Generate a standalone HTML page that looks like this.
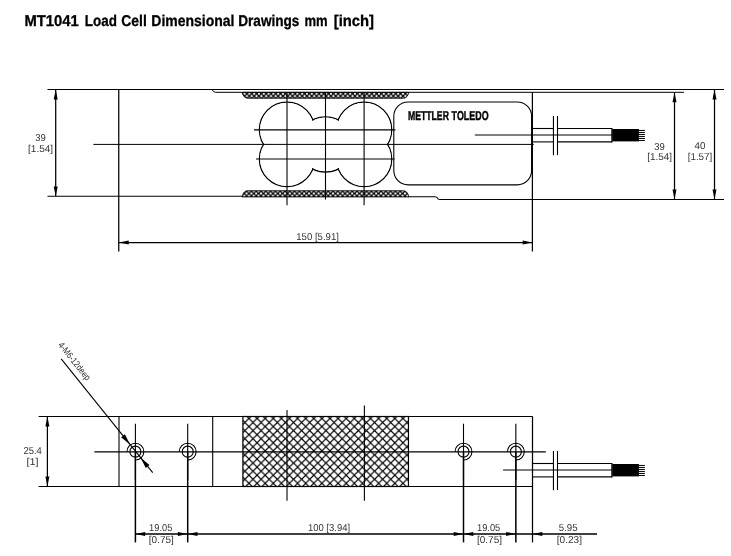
<!DOCTYPE html>
<html>
<head>
<meta charset="utf-8">
<title>MT1041 Load Cell Dimensional Drawings</title>
<style>
  html, body { margin: 0; padding: 0; background: #ffffff; }
  body { width: 731px; height: 556px; overflow: hidden; font-family: "Liberation Sans", sans-serif; }
  svg { display: block; filter: grayscale(1); }
  text { font-family: "Liberation Sans", sans-serif; text-rendering: geometricPrecision; }
  .ln { stroke: #000; stroke-width: 1.1; fill: none; }
  .th { stroke: #000; stroke-width: 1; fill: none; }
  .dim { font-size: 10px; fill: #333; text-anchor: middle; }
  .ar { fill: #000; stroke: none; }
  .dl { stroke: #000; stroke-width: 1.25; fill: none; }
</style>
</head>
<body>
<svg width="731" height="556" viewBox="0 0 731 556">
  <defs>
    <pattern id="hx" x="248.94" y="418.46" width="8.105" height="8.105" patternUnits="userSpaceOnUse">
      <path d="M-1 -1 L9.105 9.105 M9.105 -1 L-1 9.105" stroke="#000" stroke-width="1.12" fill="none"/>
    </pattern>
    <pattern id="hs" x="244.57" y="93.7" width="4.8" height="4.8" patternUnits="userSpaceOnUse">
      <rect width="4.8" height="4.8" fill="#000"/>
      <path d="M0 -1.55 L1.55 0 L0 1.55 L-1.55 0 Z M4.8 -1.55 L6.35 0 L4.8 1.55 L3.25 0 Z M0 3.25 L1.55 4.8 L0 6.35 L-1.55 4.8 Z M4.8 3.25 L6.35 4.8 L4.8 6.35 L3.25 4.8 Z M2.4 0.85 L3.95 2.4 L2.4 3.95 L0.85 2.4 Z" fill="#fff"/>
    </pattern>
    <pattern id="hs2" x="246.6" y="193.5" width="4.8" height="4.8" patternUnits="userSpaceOnUse">
      <rect width="4.8" height="4.8" fill="#000"/>
      <path d="M0 -1.55 L1.55 0 L0 1.55 L-1.55 0 Z M4.8 -1.55 L6.35 0 L4.8 1.55 L3.25 0 Z M0 3.25 L1.55 4.8 L0 6.35 L-1.55 4.8 Z M4.8 3.25 L6.35 4.8 L4.8 6.35 L3.25 4.8 Z M2.4 0.85 L3.95 2.4 L2.4 3.95 L0.85 2.4 Z" fill="#fff"/>
    </pattern>
  </defs>
  <rect width="731" height="556" fill="#fff"/>

  <!-- Title -->
  <g font-size="15.6" font-weight="bold" fill="#000" stroke="#000" stroke-width="0.3">
    <text x="24.4" y="26.2" textLength="54.3" lengthAdjust="spacingAndGlyphs">MT1041</text>
    <text x="84.8" y="26.2" textLength="32.1" lengthAdjust="spacingAndGlyphs">Load</text>
    <text x="121.3" y="26.2" textLength="25.5" lengthAdjust="spacingAndGlyphs">Cell</text>
    <text x="151.35" y="26.2" textLength="83.15" lengthAdjust="spacingAndGlyphs">Dimensional</text>
    <text x="238.2" y="26.2" textLength="61.25" lengthAdjust="spacingAndGlyphs">Drawings</text>
    <text x="304.55" y="26.2" textLength="23.15" lengthAdjust="spacingAndGlyphs">mm</text>
    <text x="333.75" y="26.2" textLength="40.25" lengthAdjust="spacingAndGlyphs">[inch]</text>
  </g>

  <!-- ================= TOP VIEW ================= -->
  <g id="top">
    <!-- outline -->
    <line class="ln" x1="47.5" y1="89.5" x2="724" y2="89.5"/>
    <path class="ln" d="M212.2 89.5 Q213 92.3 215.5 92.3 L684 92.3" style="stroke-width:1"/>
    <line class="ln" x1="47.5" y1="196.3" x2="243" y2="196.3"/>
    <path class="ln" d="M408 196.7 L435 196.7 Q436.8 196.9 437.4 198.1 Q438 199.5 439.8 199.5 L724 199.5"/>
    <line class="dl" x1="118.75" y1="89.5" x2="118.75" y2="251.5"/>
    <line class="dl" x1="532.4" y1="92" x2="532.4" y2="251.5"/>

    <!-- knurl bands -->
    <path d="M242 92.4 L408.8 92.4 C408 95.5 406.5 98.2 403.2 98.2 L248 98.2 C244.5 98.2 243 95.5 242 92.4 Z" fill="url(#hs)" stroke="#000" stroke-width="0.9"/>
    <path d="M242 196.9 L408.9 196.9 C408 193.6 406.6 190.8 403.4 190.8 L247.2 190.8 C244.2 190.8 243 193.6 242 196.9 Z" fill="url(#hs2)" stroke="#000" stroke-width="0.9"/>

    <!-- five circle union -->
    <g stroke="#000" stroke-width="1.3" fill="none">
      <circle cx="287" cy="129.7" r="27.6"/>
      <circle cx="287" cy="159" r="27.6"/>
      <circle cx="364.1" cy="129.7" r="27.6"/>
      <circle cx="364.1" cy="159" r="27.6"/>
      <circle cx="325.5" cy="144.4" r="27.6"/>
    </g>
    <g fill="#fff" stroke="none">
      <circle cx="287" cy="129.7" r="26.95"/>
      <circle cx="287" cy="159" r="26.95"/>
      <circle cx="364.1" cy="129.7" r="26.95"/>
      <circle cx="364.1" cy="159" r="26.95"/>
      <circle cx="325.5" cy="144.4" r="26.95"/>
    </g>

    <!-- label plate -->
    <rect class="ln" x="393.8" y="102" width="137.8" height="82.85" rx="14.4" ry="14.4"/>
    <g font-size="12.9" font-weight="bold" fill="#000" stroke="#000" stroke-width="0.4">
      <text x="407.96" y="119.9" textLength="40.94" lengthAdjust="spacingAndGlyphs">METTLER</text>
      <text x="451.62" y="119.9" textLength="37.01" lengthAdjust="spacingAndGlyphs">TOLEDO</text>
    </g>

    <!-- centre lines -->
    <line class="th" x1="93.4" y1="144.4" x2="533.8" y2="144.4"/>
    <line class="th" x1="254" y1="129.8" x2="395.4" y2="129.8" style="stroke-width:1.15"/>
    <line class="th" x1="256" y1="159" x2="394.5" y2="159" style="stroke-width:1.15"/>
    <line class="ln" x1="287" y1="92" x2="287" y2="205.3"/>
    <line class="ln" x1="325.5" y1="92" x2="325.5" y2="199.6"/>
    <line class="ln" x1="364.1" y1="92" x2="364.1" y2="205.3"/>

    <!-- cable -->
    <g transform="translate(0 -335)">
      <line class="ln" x1="532.5" y1="463.5" x2="553.4" y2="463.5"/>
      <line class="ln" x1="557.5" y1="463.5" x2="612" y2="463.5"/>
      <line class="ln" x1="532.5" y1="476.9" x2="553.4" y2="476.9"/>
      <line class="ln" x1="557.5" y1="476.9" x2="612" y2="476.9"/>
      <line class="ln" x1="474.8" y1="470" x2="612" y2="470"/>
      <line class="ln" x1="553.45" y1="450.9" x2="553.45" y2="490.3"/>
      <line class="ln" x1="557.5" y1="450.9" x2="557.5" y2="490"/>
      <line class="dl" x1="611.9" y1="463" x2="611.9" y2="477.4"/>
      <rect x="612.2" y="464" width="26.7" height="12.4" fill="#000"/>
      <g stroke="#000" stroke-width="1">
      <line x1="638.5" y1="465.45" x2="644.9" y2="465.45"/>
      <line x1="638.5" y1="467.45" x2="644.9" y2="467.45"/>
      <line x1="638.5" y1="469.45" x2="644.9" y2="469.45"/>
      <line x1="638.5" y1="471.45" x2="644.9" y2="471.45"/>
      <line x1="638.5" y1="473.45" x2="644.9" y2="473.45"/>
      <line x1="638.5" y1="475.45" x2="644.9" y2="475.45"/>
      </g>
    </g>

    <!-- dim 39 left -->
    <line class="dl" x1="55.7" y1="90" x2="55.7" y2="196"/>
    <path class="ar" d="M55.70 89.60 L57.70 99.40 L53.70 99.40 Z"/>
    <path class="ar" d="M55.70 196.20 L53.70 186.40 L57.70 186.40 Z"/>
    <text class="dim" x="40.6" y="141.2" textLength="10.5" lengthAdjust="spacingAndGlyphs">39</text>
    <text class="dim" x="40.6" y="151.8" textLength="25.1" lengthAdjust="spacingAndGlyphs">[1.54]</text>

    <!-- dim 39 right -->
    <line class="dl" x1="674.5" y1="93" x2="674.5" y2="199"/>
    <path class="ar" d="M674.50 92.40 L676.50 102.20 L672.50 102.20 Z"/>
    <path class="ar" d="M674.50 199.30 L672.50 189.50 L676.50 189.50 Z"/>
    <text class="dim" x="659.6" y="149.5" textLength="10.5" lengthAdjust="spacingAndGlyphs">39</text>
    <text class="dim" x="659.6" y="159.9" textLength="24.8" lengthAdjust="spacingAndGlyphs">[1.54]</text>

    <!-- dim 40 right -->
    <line class="dl" x1="714.5" y1="90" x2="714.5" y2="199"/>
    <path class="ar" d="M714.50 89.60 L716.50 99.40 L712.50 99.40 Z"/>
    <path class="ar" d="M714.50 199.30 L712.50 189.50 L716.50 189.50 Z"/>
    <text class="dim" x="700" y="149.1" textLength="10.9" lengthAdjust="spacingAndGlyphs">40</text>
    <text class="dim" x="700" y="159.5" textLength="24.6" lengthAdjust="spacingAndGlyphs">[1.57]</text>

    <!-- dim 150 -->
    <line class="dl" x1="119" y1="242.5" x2="532.6" y2="242.5"/>
    <path class="ar" d="M118.90 242.50 L128.70 240.50 L128.70 244.50 Z"/>
    <path class="ar" d="M532.50 242.50 L522.70 244.50 L522.70 240.50 Z"/>
    <text class="dim" x="317.6" y="239.6" textLength="42.6" lengthAdjust="spacingAndGlyphs">150 [5.91]</text>
  </g>

  <!-- ================= BOTTOM VIEW ================= -->
  <g id="bot">
    <line class="ln" x1="38.6" y1="416.5" x2="532.6" y2="416.5"/>
    <line class="ln" x1="38.6" y1="486.5" x2="532.6" y2="486.5"/>
    <line class="ln" x1="119" y1="416.5" x2="119" y2="486.5"/>
    <line class="ln" x1="212.7" y1="416.5" x2="212.7" y2="486.5"/>
    <line class="dl" x1="532.5" y1="416.5" x2="532.5" y2="542.4"/>

    <rect x="242.9" y="416.5" width="165.55" height="70" fill="url(#hx)" stroke="#000" stroke-width="1.2"/>

    <line class="ln" x1="287" y1="410" x2="287" y2="500.8"/>
    <line class="ln" x1="364.4" y1="405.4" x2="364.4" y2="500.8"/>
    <line class="ln" x1="94.4" y1="451.85" x2="545.8" y2="451.85"/>

    <!-- holes -->
    <g class="ln">
      <circle cx="135.4" cy="451.65" r="5.5"/>
      <path d="M127.00 451.65 A8.4 8.4 0 1 1 135.40 460.05"/>
      <circle cx="187.7" cy="451.65" r="5.5"/>
      <path d="M179.30 451.65 A8.4 8.4 0 1 1 187.70 460.05"/>
      <circle cx="463.5" cy="451.65" r="5.5"/>
      <path d="M455.10 451.65 A8.4 8.4 0 1 1 463.50 460.05"/>
      <circle cx="515.85" cy="451.65" r="5.5"/>
      <path d="M507.45 451.65 A8.4 8.4 0 1 1 515.85 460.05"/>
    </g>
    <line class="ln" x1="135.4" y1="423.7" x2="135.4" y2="480"/>
    <line class="dl" x1="135.4" y1="452" x2="135.4" y2="542.4" style="stroke-width:1.5"/>
    <line class="ln" x1="187.7" y1="423.7" x2="187.7" y2="480"/>
    <line class="dl" x1="187.7" y1="452" x2="187.7" y2="542.4" style="stroke-width:1.5"/>
    <line class="ln" x1="463.5" y1="423.7" x2="463.5" y2="480"/>
    <line class="dl" x1="463.5" y1="452" x2="463.5" y2="542.4" style="stroke-width:1.5"/>
    <line class="ln" x1="515.85" y1="423.7" x2="515.85" y2="480"/>
    <line class="dl" x1="515.85" y1="452" x2="515.85" y2="542.4" style="stroke-width:1.5"/>

    <!-- cable -->
    <g>
      <line class="ln" x1="532.5" y1="463.5" x2="553.4" y2="463.5"/>
      <line class="ln" x1="557.5" y1="463.5" x2="612" y2="463.5"/>
      <line class="ln" x1="532.5" y1="476.9" x2="553.4" y2="476.9"/>
      <line class="ln" x1="557.5" y1="476.9" x2="612" y2="476.9"/>
      <line class="ln" x1="503.1" y1="470" x2="612" y2="470"/>
      <line class="ln" x1="553.45" y1="450.9" x2="553.45" y2="490.3"/>
      <line class="ln" x1="557.5" y1="450.9" x2="557.5" y2="490"/>
      <line class="dl" x1="611.9" y1="463" x2="611.9" y2="477.4"/>
      <rect x="612.2" y="464" width="26.7" height="12.4" fill="#000"/>
      <g stroke="#000" stroke-width="1">
      <line x1="638.5" y1="465.45" x2="644.9" y2="465.45"/>
      <line x1="638.5" y1="467.45" x2="644.9" y2="467.45"/>
      <line x1="638.5" y1="469.45" x2="644.9" y2="469.45"/>
      <line x1="638.5" y1="471.45" x2="644.9" y2="471.45"/>
      <line x1="638.5" y1="473.45" x2="644.9" y2="473.45"/>
      <line x1="638.5" y1="475.45" x2="644.9" y2="475.45"/>
      </g>
    </g>

    <!-- leader -->
    <line class="ln" x1="61.2" y1="358.8" x2="152.7" y2="472.7"/>
    <path class="ar" d="M130.00 444.60 L121.11 437.37 L124.86 434.37 Z"/>
    <path class="ar" d="M140.60 457.80 L149.49 465.03 L145.74 468.03 Z"/>
    <text x="0" y="0" font-size="9.2" fill="#2a2a2a" transform="translate(57.7 345.2) rotate(51.3)" textLength="46" lengthAdjust="spacingAndGlyphs">4-M6-12deep</text>

    <!-- dim 25.4 -->
    <line class="dl" x1="47.4" y1="417" x2="47.4" y2="486"/>
    <path class="ar" d="M47.40 416.60 L49.40 426.40 L45.40 426.40 Z"/>
    <path class="ar" d="M47.40 486.40 L45.40 476.60 L49.40 476.60 Z"/>
    <text class="dim" x="32.6" y="454.3" textLength="18.4" lengthAdjust="spacingAndGlyphs">25.4</text>
    <text class="dim" x="32.6" y="465" textLength="12.0" lengthAdjust="spacingAndGlyphs">[1]</text>

    <!-- bottom dims -->
    <line class="dl" x1="135.4" y1="533.9" x2="597" y2="533.9" style="stroke-width:1.45"/>
    <path class="ar" d="M135.40 533.90 L145.20 531.90 L145.20 535.90 Z"/>
    <path class="ar" d="M187.70 533.90 L177.90 535.90 L177.90 531.90 Z"/>
    <path class="ar" d="M187.70 533.90 L197.50 531.90 L197.50 535.90 Z"/>
    <path class="ar" d="M463.50 533.90 L453.70 535.90 L453.70 531.90 Z"/>
    <path class="ar" d="M463.50 533.90 L473.30 531.90 L473.30 535.90 Z"/>
    <path class="ar" d="M515.90 533.90 L506.10 535.90 L506.10 531.90 Z"/>
    <path class="ar" d="M532.60 533.90 L542.40 531.90 L542.40 535.90 Z"/>

    <text class="dim" x="160.7" y="531.2" textLength="23.2" lengthAdjust="spacingAndGlyphs">19.05</text>
    <text class="dim" x="161.3" y="543.1" textLength="25.0" lengthAdjust="spacingAndGlyphs">[0.75]</text>
    <text class="dim" x="329" y="531.4" textLength="42.1" lengthAdjust="spacingAndGlyphs">100 [3.94]</text>
    <text class="dim" x="488.6" y="531.4" textLength="23.2" lengthAdjust="spacingAndGlyphs">19.05</text>
    <text class="dim" x="489.5" y="543.3" textLength="25.0" lengthAdjust="spacingAndGlyphs">[0.75]</text>
    <text class="dim" x="568.2" y="531.4" textLength="18.8" lengthAdjust="spacingAndGlyphs">5.95</text>
    <text class="dim" x="569.4" y="543.3" textLength="25.2" lengthAdjust="spacingAndGlyphs">[0.23]</text>
  </g>
</svg>
</body>
</html>
